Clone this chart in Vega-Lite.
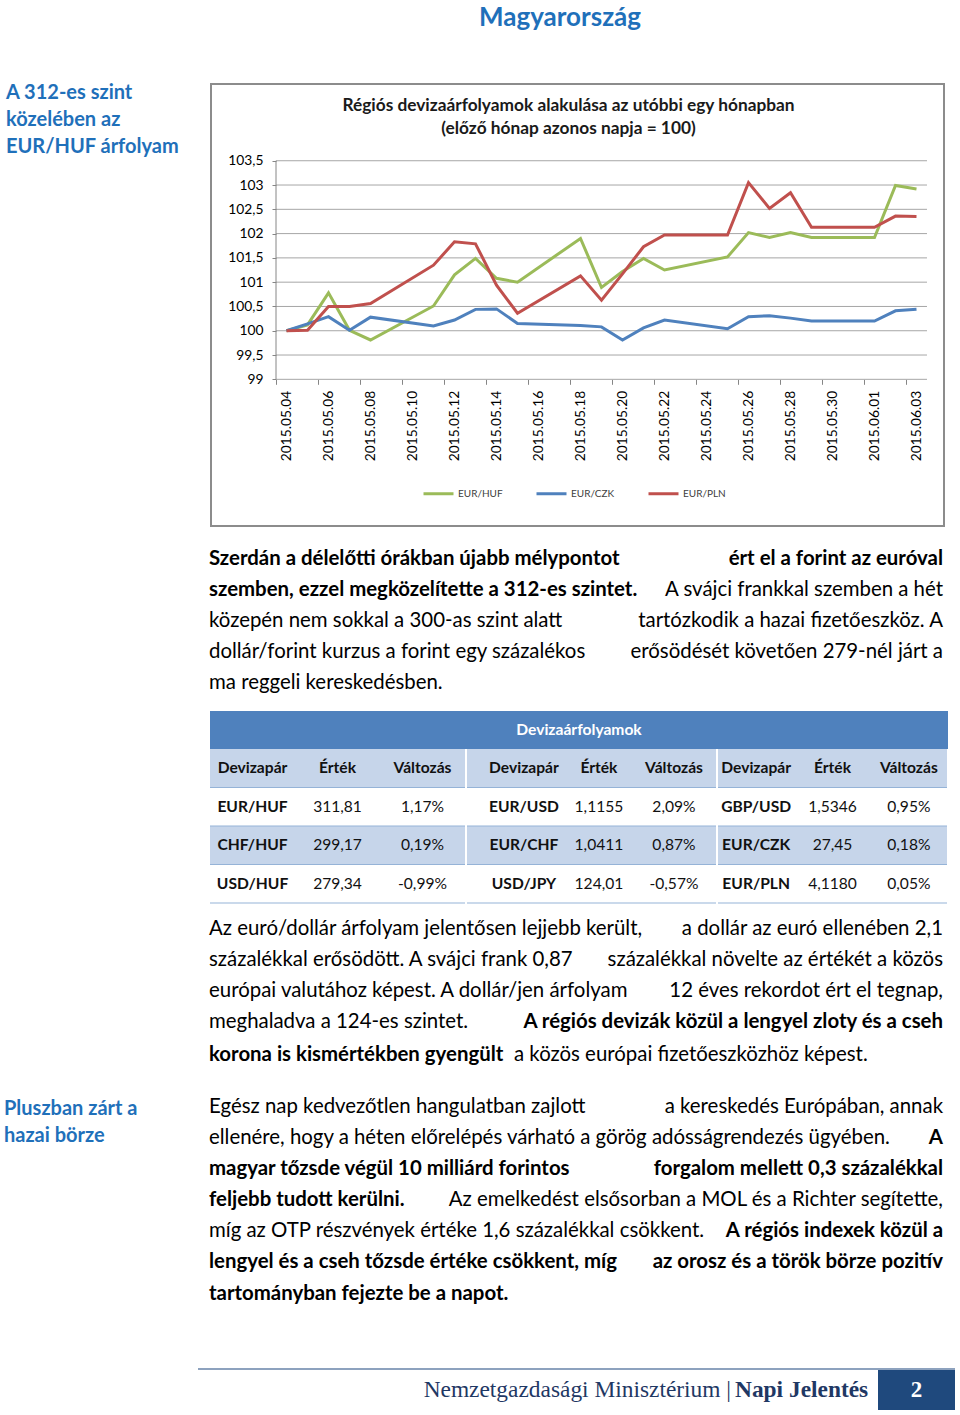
{
  "$schema": "https://vega.github.io/schema/vega-lite/v6.json",
  "background": "white",
  "padding": 0,
  "spacing": 0,
  "resolve": {"scale": {"x": "independent", "y": "independent", "color": "independent"}, "legend": {"color": "independent"}},
  "datasets": {
    "fx": [
      {"date":"2015-05-04","pair":"EUR/HUF","value":100.00},{"date":"2015-05-05","pair":"EUR/HUF","value":100.12},{"date":"2015-05-06","pair":"EUR/HUF","value":100.78},{"date":"2015-05-07","pair":"EUR/HUF","value":100.01},{"date":"2015-05-08","pair":"EUR/HUF","value":99.81},{"date":"2015-05-11","pair":"EUR/HUF","value":100.51},{"date":"2015-05-12","pair":"EUR/HUF","value":101.15},{"date":"2015-05-13","pair":"EUR/HUF","value":101.49},{"date":"2015-05-14","pair":"EUR/HUF","value":101.08},{"date":"2015-05-15","pair":"EUR/HUF","value":101.00},{"date":"2015-05-18","pair":"EUR/HUF","value":101.90},{"date":"2015-05-19","pair":"EUR/HUF","value":100.89},{"date":"2015-05-20","pair":"EUR/HUF","value":101.22},{"date":"2015-05-21","pair":"EUR/HUF","value":101.49},{"date":"2015-05-22","pair":"EUR/HUF","value":101.25},{"date":"2015-05-25","pair":"EUR/HUF","value":101.52},{"date":"2015-05-26","pair":"EUR/HUF","value":102.02},{"date":"2015-05-27","pair":"EUR/HUF","value":101.92},{"date":"2015-05-28","pair":"EUR/HUF","value":102.02},{"date":"2015-05-29","pair":"EUR/HUF","value":101.92},{"date":"2015-06-01","pair":"EUR/HUF","value":101.92},{"date":"2015-06-02","pair":"EUR/HUF","value":102.99},{"date":"2015-06-03","pair":"EUR/HUF","value":102.92},
      {"date":"2015-05-04","pair":"EUR/CZK","value":100.00},{"date":"2015-05-05","pair":"EUR/CZK","value":100.14},{"date":"2015-05-06","pair":"EUR/CZK","value":100.29},{"date":"2015-05-07","pair":"EUR/CZK","value":100.01},{"date":"2015-05-08","pair":"EUR/CZK","value":100.28},{"date":"2015-05-11","pair":"EUR/CZK","value":100.10},{"date":"2015-05-12","pair":"EUR/CZK","value":100.22},{"date":"2015-05-13","pair":"EUR/CZK","value":100.44},{"date":"2015-05-14","pair":"EUR/CZK","value":100.45},{"date":"2015-05-15","pair":"EUR/CZK","value":100.15},{"date":"2015-05-18","pair":"EUR/CZK","value":100.11},{"date":"2015-05-19","pair":"EUR/CZK","value":100.08},{"date":"2015-05-20","pair":"EUR/CZK","value":99.81},{"date":"2015-05-21","pair":"EUR/CZK","value":100.06},{"date":"2015-05-22","pair":"EUR/CZK","value":100.22},{"date":"2015-05-25","pair":"EUR/CZK","value":100.04},{"date":"2015-05-26","pair":"EUR/CZK","value":100.29},{"date":"2015-05-27","pair":"EUR/CZK","value":100.31},{"date":"2015-05-28","pair":"EUR/CZK","value":100.26},{"date":"2015-05-29","pair":"EUR/CZK","value":100.20},{"date":"2015-06-01","pair":"EUR/CZK","value":100.20},{"date":"2015-06-02","pair":"EUR/CZK","value":100.41},{"date":"2015-06-03","pair":"EUR/CZK","value":100.44},
      {"date":"2015-05-04","pair":"EUR/PLN","value":100.00},{"date":"2015-05-05","pair":"EUR/PLN","value":100.01},{"date":"2015-05-06","pair":"EUR/PLN","value":100.50},{"date":"2015-05-07","pair":"EUR/PLN","value":100.50},{"date":"2015-05-08","pair":"EUR/PLN","value":100.56},{"date":"2015-05-11","pair":"EUR/PLN","value":101.35},{"date":"2015-05-12","pair":"EUR/PLN","value":101.83},{"date":"2015-05-13","pair":"EUR/PLN","value":101.79},{"date":"2015-05-14","pair":"EUR/PLN","value":100.94},{"date":"2015-05-15","pair":"EUR/PLN","value":100.36},{"date":"2015-05-18","pair":"EUR/PLN","value":101.13},{"date":"2015-05-19","pair":"EUR/PLN","value":100.63},{"date":"2015-05-20","pair":"EUR/PLN","value":101.17},{"date":"2015-05-21","pair":"EUR/PLN","value":101.73},{"date":"2015-05-22","pair":"EUR/PLN","value":101.97},{"date":"2015-05-25","pair":"EUR/PLN","value":101.97},{"date":"2015-05-26","pair":"EUR/PLN","value":103.05},{"date":"2015-05-27","pair":"EUR/PLN","value":102.52},{"date":"2015-05-28","pair":"EUR/PLN","value":102.84},{"date":"2015-05-29","pair":"EUR/PLN","value":102.13},{"date":"2015-06-01","pair":"EUR/PLN","value":102.13},{"date":"2015-06-02","pair":"EUR/PLN","value":102.36},{"date":"2015-06-03","pair":"EUR/PLN","value":102.35}
    ],
    "grid": [{"v":99},{"v":99.5},{"v":100},{"v":100.5},{"v":101},{"v":101.5},{"v":102},{"v":102.5},{"v":103},{"v":103.5}],
    "p1": [
      {"line":1,"boldLeft":"Szerdán a délelőtti órákban újabb mélypontot","boldRight":"ért el a forint az euróval"},
      {"line":2,"boldLeft":"szemben, ezzel megközelítette a 312-es szintet.","plainRight":"A svájci frankkal szemben a hét"},
      {"line":3,"plainLeft":"közepén nem sokkal a 300-as szint alatt","plainRight":"tartózkodik a hazai fizetőeszköz. A"},
      {"line":4,"plainLeft":"dollár/forint kurzus a forint egy százalékos","plainRight":"erősödését követően 279-nél járt a"},
      {"line":5,"plainLeft":"ma reggeli kereskedésben."}
    ],
    "p2": [
      {"line":1,"plainLeft":"Az euró/dollár árfolyam jelentősen lejjebb került,","plainRight":"a dollár az euró ellenében 2,1"},
      {"line":2,"plainLeft":"százalékkal erősödött. A svájci frank 0,87","plainRight":"százalékkal növelte az értékét a közös"},
      {"line":3,"plainLeft":"európai valutához képest. A dollár/jen árfolyam","plainRight":"12 éves rekordot ért el tegnap,"},
      {"line":4,"plainLeft":"meghaladva a 124-es szintet.","boldRight":"A régiós devizák közül a lengyel zloty és a cseh"}
    ],
    "p3": [
      {"line":1,"plainLeft":"Egész nap kedvezőtlen hangulatban zajlott","plainRight":"a kereskedés Európában, annak"},
      {"line":2,"plainLeft":"ellenére, hogy a héten előrelépés várható a görög adósságrendezés ügyében.","boldRight":"A"},
      {"line":3,"boldLeft":"magyar tőzsde végül 10 milliárd forintos","boldRight":"forgalom mellett 0,3 százalékkal"},
      {"line":4,"boldLeft":"feljebb tudott kerülni.","plainRight":"Az emelkedést elsősorban a MOL és a Richter segítette,"},
      {"line":5,"plainLeft":"míg az OTP részvények értéke 1,6 százalékkal csökkent.","boldRight":"A régiós indexek közül a"},
      {"line":6,"boldLeft":"lengyel és a cseh tőzsde értéke csökkent, míg","boldRight":"az orosz és  a török börze pozitív"},
      {"line":7,"boldLeft":"tartományban fejezte be a napot."}
    ],
    "table": [
      {"g":1,"r":0,"c":0,"t":"Devizapár"},{"g":1,"r":0,"c":1,"t":"Érték"},{"g":1,"r":0,"c":2,"t":"Változás"},
      {"g":1,"r":1,"c":0,"t":"EUR/HUF"},{"g":1,"r":1,"c":1,"t":"311,81"},{"g":1,"r":1,"c":2,"t":"1,17%"},
      {"g":1,"r":2,"c":0,"t":"CHF/HUF"},{"g":1,"r":2,"c":1,"t":"299,17"},{"g":1,"r":2,"c":2,"t":"0,19%"},
      {"g":1,"r":3,"c":0,"t":"USD/HUF"},{"g":1,"r":3,"c":1,"t":"279,34"},{"g":1,"r":3,"c":2,"t":"-0,99%"},
      {"g":2,"r":0,"c":0,"t":"Devizapár"},{"g":2,"r":0,"c":1,"t":"Érték"},{"g":2,"r":0,"c":2,"t":"Változás"},
      {"g":2,"r":1,"c":0,"t":"EUR/USD"},{"g":2,"r":1,"c":1,"t":"1,1155"},{"g":2,"r":1,"c":2,"t":"2,09%"},
      {"g":2,"r":2,"c":0,"t":"EUR/CHF"},{"g":2,"r":2,"c":1,"t":"1,0411"},{"g":2,"r":2,"c":2,"t":"0,87%"},
      {"g":2,"r":3,"c":0,"t":"USD/JPY"},{"g":2,"r":3,"c":1,"t":"124,01"},{"g":2,"r":3,"c":2,"t":"-0,57%"},
      {"g":3,"r":0,"c":0,"t":"Devizapár"},{"g":3,"r":0,"c":1,"t":"Érték"},{"g":3,"r":0,"c":2,"t":"Változás"},
      {"g":3,"r":1,"c":0,"t":"GBP/USD"},{"g":3,"r":1,"c":1,"t":"1,5346"},{"g":3,"r":1,"c":2,"t":"0,95%"},
      {"g":3,"r":2,"c":0,"t":"EUR/CZK"},{"g":3,"r":2,"c":1,"t":"27,45"},{"g":3,"r":2,"c":2,"t":"0,18%"},
      {"g":3,"r":3,"c":0,"t":"EUR/PLN"},{"g":3,"r":3,"c":1,"t":"4,1180"},{"g":3,"r":3,"c":2,"t":"0,05%"}
    ]
  },
  "vconcat": [
    {"hconcat": [
      {"width":160,"height":36,"data":{"values":[]},"mark":"point"},
      {"width":800,"height":36,"data":{"values":[{"t":"Magyarország"}]},"mark":{"type":"text","font":"Lato","fontSize":26,"fontWeight":"bold","color":"#1F70BA","baseline":"middle","align":"center"},"encoding":{"text":{"field":"t"}}}
    ], "spacing":0},
    {"width":960,"height":43.5,"data":{"values":[]},"mark":"point"},
    {"hconcat": [
      {"width":6,"height":10,"data":{"values":[]},"mark":"point"},
      {"width":204,"height":{"step":26.7},"data":{"values":[{"line":1,"t":"A 312-es szint"},{"line":2,"t":"közelében az"},{"line":3,"t":"EUR/HUF árfolyam"}]},
       "mark":{"type":"text","align":"left","baseline":"alphabetic","font":"Lato","fontSize":20,"fontWeight":"bold","color":"#1F70BA"},
       "encoding":{"y":{"field":"line","type":"ordinal","axis":null,"scale":{"type":"point","padding":0.72}},"x":{"value":0},"text":{"field":"t"}}},
      {"vconcat": [
        {"width":733,"height":2.5,"data":{"values":[]},"mark":"point"},
        {"width":733,"height":442,
         "view":{"stroke":"#8C8C8C","strokeWidth":2},
         "title":{"text":["Régiós devizaárfolyamok alakulása az utóbbi egy hónapban","(előző hónap azonos napja = 100)"],"anchor":"middle","frame":"group","offset":-53,"dx":-9,"font":"Lato","fontSize":17.3,"fontWeight":"bold","color":"#1A1A1A","lineHeight":23},
         "layer":[
           {"data":{"name":"grid"},"mark":{"type":"rule","color":"#A6A6A6","strokeWidth":1},
            "encoding":{
              "y":{"field":"v","type":"quantitative","scale":{"domain":[95.98,105.08],"nice":false,"zero":false},
                   "axis":{"orient":"left","offset":-65,"title":null,"domain":false,"grid":false,
                     "values":[99,99.5,100,100.5,101,101.5,102,102.5,103,103.5],
                     "labelExpr":"replace(toString(datum.value), '.', ',')","tickSize":4,"tickColor":"#868686","labelPadding":9,"labelFont":"Lato","labelFontSize":13.8,"labelColor":"#000000","labelOverlap":false,"labelFlush":false}},
              "x":{"datum":{"year":2015,"month":5,"date":3,"hours":12,"utc":true},"type":"temporal","scale":{"type":"utc","nice":false,"domain":[{"year":2015,"month":4,"date":30,"hours":9,"minutes":42,"seconds":51,"utc":true},{"year":2015,"month":6,"date":4,"hours":7,"minutes":25,"seconds":43,"utc":true}]},
                   "axis":{"orient":"bottom","offset":-146.7,"title":null,"domain":false,"grid":false,
                     "values":[{"year":2015,"month":5,"date":4,"utc":true},{"year":2015,"month":5,"date":6,"utc":true},{"year":2015,"month":5,"date":8,"utc":true},{"year":2015,"month":5,"date":10,"utc":true},{"year":2015,"month":5,"date":12,"utc":true},{"year":2015,"month":5,"date":14,"utc":true},{"year":2015,"month":5,"date":16,"utc":true},{"year":2015,"month":5,"date":18,"utc":true},{"year":2015,"month":5,"date":20,"utc":true},{"year":2015,"month":5,"date":22,"utc":true},{"year":2015,"month":5,"date":24,"utc":true},{"year":2015,"month":5,"date":26,"utc":true},{"year":2015,"month":5,"date":28,"utc":true},{"year":2015,"month":5,"date":30,"utc":true},{"year":2015,"month":6,"date":1,"utc":true},{"year":2015,"month":6,"date":3,"utc":true}],
                     "labelExpr":"utcFormat(datum.value, '%Y.%m.%d')","labelAngle":-90,"labelAlign":"right","labelBaseline":"middle","labelPadding":6,
                     "tickOffset":-10.5,"labelOffset":10.5,"tickSize":5,"tickColor":"#868686","labelFont":"Lato","labelFontSize":13.8,"labelColor":"#000000","labelOverlap":false,"labelFlush":false}},
              "x2":{"datum":{"year":2015,"month":6,"date":3,"hours":12,"utc":true}}}},
           {"data":{"values":[{}]},"mark":{"type":"rule","color":"#868686","strokeWidth":1},
            "encoding":{
              "x":{"datum":{"year":2015,"month":5,"date":3,"hours":12,"utc":true},"type":"temporal","scale":{"type":"utc","nice":false,"domain":[{"year":2015,"month":4,"date":30,"hours":9,"minutes":42,"seconds":51,"utc":true},{"year":2015,"month":6,"date":4,"hours":7,"minutes":25,"seconds":43,"utc":true}]}},
              "y":{"datum":99,"type":"quantitative","scale":{"domain":[95.98,105.08],"nice":false,"zero":false}},
              "y2":{"datum":103.5}}},
           {"data":{"name":"fx"},"mark":{"type":"line","strokeWidth":3},
            "encoding":{
              "x":{"field":"date","type":"temporal",
                   "scale":{"type":"utc","nice":false,"domain":[{"year":2015,"month":4,"date":30,"hours":9,"minutes":42,"seconds":51,"utc":true},{"year":2015,"month":6,"date":4,"hours":7,"minutes":25,"seconds":43,"utc":true}]}},
              "y":{"field":"value","type":"quantitative",
                   "scale":{"domain":[95.98,105.08],"nice":false,"zero":false}},
              "color":{"field":"pair","type":"nominal",
                   "scale":{"domain":["EUR/HUF","EUR/CZK","EUR/PLN"],"range":["#9BBB59","#4F81BD","#C0504D"]},
                   "legend":{"title":null,"orient":"none","legendX":422,"legendY":397,"direction":"horizontal","symbolType":"stroke","symbolSize":900,"symbolStrokeWidth":3,"labelFont":"Lato","labelFontSize":10,"labelColor":"#404040","columnPadding":27,"labelOffset":3,"padding":0}}}}
         ]}
      ], "spacing":0}
    ], "spacing":0},
    {"width":960,"height":21,"data":{"values":[]},"mark":"point"},
    {"hconcat": [
      {"width":209,"height":10,"data":{"values":[]},"mark":"point"},
      {"width":734,"height":{"step":31.2},"data":{"name":"p1"},
       "encoding":{"y":{"field":"line","type":"ordinal","axis":null,"scale":{"type":"point","padding":0.5}}},
       "layer":[
         {"transform":[{"filter":"isValid(datum.boldLeft)"}],"mark":{"type":"text","align":"left","baseline":"alphabetic","font":"Lato","fontSize":20.4,"fontWeight":"bold","color":"#000000"},"encoding":{"x":{"value":0},"text":{"field":"boldLeft"}}},
         {"transform":[{"filter":"isValid(datum.plainLeft)"}],"mark":{"type":"text","align":"left","baseline":"alphabetic","font":"Lato","fontSize":20.4,"color":"#000000"},"encoding":{"x":{"value":0},"text":{"field":"plainLeft"}}},
         {"transform":[{"filter":"isValid(datum.boldRight)"}],"mark":{"type":"text","align":"right","baseline":"alphabetic","font":"Lato","fontSize":20.4,"fontWeight":"bold","color":"#000000"},"encoding":{"x":{"value":"width"},"text":{"field":"boldRight"}}},
         {"transform":[{"filter":"isValid(datum.plainRight)"}],"mark":{"type":"text","align":"right","baseline":"alphabetic","font":"Lato","fontSize":20.4,"color":"#000000"},"encoding":{"x":{"value":"width"},"text":{"field":"plainRight"}}}
       ]}
    ], "spacing":0},
    {"width":960,"height":6,"data":{"values":[]},"mark":"point"},
    {"hconcat": [
      {"width":209,"height":10,"data":{"values":[]},"mark":"point"},
      {"vconcat": [
        {"width":738,"height":38,"view":{"fill":"#4F81BD","stroke":null},"data":{"values":[{"t":"Devizaárfolyamok"}]},"mark":{"type":"text","font":"Lato","fontSize":15.6,"fontWeight":"bold","color":"#FFFFFF","baseline":"middle","align":"center"},"encoding":{"text":{"field":"t"}}},
        {"hconcat": [
          {"width":255,"height":154,"data":{"name":"table"},"transform":[{"filter":"datum.g == 1"}],
           "layer":[
             {"transform":[{"filter":"datum.c == 0 && (datum.r == 0 || datum.r == 2)"}],"mark":{"type":"rect","color":"#C6D5EA"},"encoding":{"y":{"field":"r","type":"ordinal","axis":null,"scale":{"type":"band","domain":[0,1,2,3],"paddingInner":0,"paddingOuter":0}},"x":{"value":0},"x2":{"value":"width"}}},
             {"transform":[{"filter":"datum.c == 0"}],"mark":{"type":"rule","color":"#95B3D7","strokeWidth":1.2},"encoding":{"y":{"field":"r","type":"ordinal","bandPosition":1,"axis":null},"x":{"value":0},"x2":{"value":"width"}}},
             {"transform":[{"filter":"datum.r == 0 || datum.c == 0"}],"mark":{"type":"text","font":"Lato","fontSize":15.6,"fontWeight":"bold","color":"#111111","baseline":"middle","align":"center"},"encoding":{"y":{"field":"r","type":"ordinal","bandPosition":0.5,"axis":null},"x":{"field":"c","type":"ordinal","bandPosition":0.5,"axis":null,"scale":{"type":"band","domain":[0,1,2],"paddingInner":0,"paddingOuter":0}},"text":{"field":"t"}}},
             {"transform":[{"filter":"datum.r > 0 && datum.c > 0"}],"mark":{"type":"text","font":"Lato","fontSize":15.6,"color":"#111111","baseline":"middle","align":"center"},"encoding":{"y":{"field":"r","type":"ordinal","bandPosition":0.5,"axis":null},"x":{"field":"c","type":"ordinal","bandPosition":0.5,"axis":null,"scale":{"type":"band","domain":[0,1,2],"paddingInner":0,"paddingOuter":0}},"text":{"field":"t"}}}
           ]},
          {"width":249,"height":154,"data":{"name":"table"},"transform":[{"filter":"datum.g == 2"}],
           "layer":[
             {"transform":[{"filter":"datum.c == 0 && (datum.r == 0 || datum.r == 2)"}],"mark":{"type":"rect","color":"#C6D5EA"},"encoding":{"y":{"field":"r","type":"ordinal","axis":null,"scale":{"type":"band","domain":[0,1,2,3],"paddingInner":0,"paddingOuter":0}},"x":{"value":0},"x2":{"value":"width"}}},
             {"transform":[{"filter":"datum.c == 0"}],"mark":{"type":"rule","color":"#95B3D7","strokeWidth":1.2},"encoding":{"y":{"field":"r","type":"ordinal","bandPosition":1,"axis":null},"x":{"value":0},"x2":{"value":"width"}}},
             {"transform":[{"filter":"datum.r == 0 || datum.c == 0"}],"mark":{"type":"text","font":"Lato","fontSize":15.6,"fontWeight":"bold","color":"#111111","baseline":"middle","align":"center"},"encoding":{"y":{"field":"r","type":"ordinal","bandPosition":0.5,"axis":null},"x":{"field":"c","type":"ordinal","bandPosition":0.5,"axis":null,"scale":{"type":"band","domain":[0,1,2],"paddingInner":0,"paddingOuter":0.16,"align":0.81}},"text":{"field":"t"}}},
             {"transform":[{"filter":"datum.r > 0 && datum.c > 0"}],"mark":{"type":"text","font":"Lato","fontSize":15.6,"color":"#111111","baseline":"middle","align":"center"},"encoding":{"y":{"field":"r","type":"ordinal","bandPosition":0.5,"axis":null},"x":{"field":"c","type":"ordinal","bandPosition":0.5,"axis":null,"scale":{"type":"band","domain":[0,1,2],"paddingInner":0,"paddingOuter":0.16,"align":0.81}},"text":{"field":"t"}}}
           ]},
          {"width":229,"height":154,"data":{"name":"table"},"transform":[{"filter":"datum.g == 3"}],
           "layer":[
             {"transform":[{"filter":"datum.c == 0 && (datum.r == 0 || datum.r == 2)"}],"mark":{"type":"rect","color":"#C6D5EA"},"encoding":{"y":{"field":"r","type":"ordinal","axis":null,"scale":{"type":"band","domain":[0,1,2,3],"paddingInner":0,"paddingOuter":0}},"x":{"value":0},"x2":{"value":"width"}}},
             {"transform":[{"filter":"datum.c == 0"}],"mark":{"type":"rule","color":"#95B3D7","strokeWidth":1.2},"encoding":{"y":{"field":"r","type":"ordinal","bandPosition":1,"axis":null},"x":{"value":0},"x2":{"value":"width"}}},
             {"transform":[{"filter":"datum.r == 0 || datum.c == 0"}],"mark":{"type":"text","font":"Lato","fontSize":15.6,"fontWeight":"bold","color":"#111111","baseline":"middle","align":"center"},"encoding":{"y":{"field":"r","type":"ordinal","bandPosition":0.5,"axis":null},"x":{"field":"c","type":"ordinal","bandPosition":0.5,"axis":null,"scale":{"type":"band","domain":[0,1,2],"paddingInner":0,"paddingOuter":0}},"text":{"field":"t"}}},
             {"transform":[{"filter":"datum.r > 0 && datum.c > 0"}],"mark":{"type":"text","font":"Lato","fontSize":15.6,"color":"#111111","baseline":"middle","align":"center"},"encoding":{"y":{"field":"r","type":"ordinal","bandPosition":0.5,"axis":null},"x":{"field":"c","type":"ordinal","bandPosition":0.5,"axis":null,"scale":{"type":"band","domain":[0,1,2],"paddingInner":0,"paddingOuter":0}},"text":{"field":"t"}}}
           ]}
        ], "spacing":0}
      ], "spacing":0}
    ], "spacing":0},
    {"width":960,"height":13.6,"data":{"values":[]},"mark":"point"},
    {"hconcat": [
      {"width":209,"height":10,"data":{"values":[]},"mark":"point"},
      {"vconcat": [
        {"width":734,"height":{"step":31.2},"data":{"name":"p2"},
         "encoding":{"y":{"field":"line","type":"ordinal","axis":null,"scale":{"type":"point","padding":0.5}}},
         "layer":[
           {"transform":[{"filter":"isValid(datum.boldLeft)"}],"mark":{"type":"text","align":"left","baseline":"alphabetic","font":"Lato","fontSize":20.4,"fontWeight":"bold","color":"#000000"},"encoding":{"x":{"value":0},"text":{"field":"boldLeft"}}},
           {"transform":[{"filter":"isValid(datum.plainLeft)"}],"mark":{"type":"text","align":"left","baseline":"alphabetic","font":"Lato","fontSize":20.4,"color":"#000000"},"encoding":{"x":{"value":0},"text":{"field":"plainLeft"}}},
           {"transform":[{"filter":"isValid(datum.boldRight)"}],"mark":{"type":"text","align":"right","baseline":"alphabetic","font":"Lato","fontSize":20.4,"fontWeight":"bold","color":"#000000"},"encoding":{"x":{"value":"width"},"text":{"field":"boldRight"}}},
           {"transform":[{"filter":"isValid(datum.plainRight)"}],"mark":{"type":"text","align":"right","baseline":"alphabetic","font":"Lato","fontSize":20.4,"color":"#000000"},"encoding":{"x":{"value":"width"},"text":{"field":"plainRight"}}}
         ]},
        {"hconcat": [
          {"width":305,"height":{"step":31.2},"data":{"values":[{"line":1,"t":"korona is kismértékben gyengült"}]},
           "mark":{"type":"text","align":"left","baseline":"alphabetic","font":"Lato","fontSize":20.4,"fontWeight":"bold","color":"#000000"},
           "encoding":{"y":{"field":"line","type":"ordinal","axis":null,"scale":{"type":"point","padding":0.5}},"x":{"value":0},"text":{"field":"t"}}},
          {"width":429,"height":{"step":31.2},"data":{"values":[{"line":1,"t":"a közös európai fizetőeszközhöz képest."}]},
           "mark":{"type":"text","align":"left","baseline":"alphabetic","font":"Lato","fontSize":20.4,"color":"#000000"},
           "encoding":{"y":{"field":"line","type":"ordinal","axis":null,"scale":{"type":"point","padding":0.5}},"x":{"value":0},"text":{"field":"t"}}}
        ], "spacing":0}
      ], "spacing":0}
    ], "spacing":0},
    {"width":960,"height":18.8,"data":{"values":[]},"mark":"point"},
    {"hconcat": [
      {"width":4,"height":10,"data":{"values":[]},"mark":"point"},
      {"width":205,"height":{"step":26.7},"data":{"values":[{"line":1,"t":"Pluszban zárt a"},{"line":2,"t":"hazai börze"}]},
       "mark":{"type":"text","align":"left","baseline":"alphabetic","font":"Lato","fontSize":20,"fontWeight":"bold","color":"#1F70BA"},
       "encoding":{"y":{"field":"line","type":"ordinal","axis":null,"scale":{"type":"point","padding":0.67}},"x":{"value":0},"text":{"field":"t"}}},
      {"width":734,"height":{"step":31.17},"data":{"name":"p3"},
       "encoding":{"y":{"field":"line","type":"ordinal","axis":null,"scale":{"type":"point","padding":0.5}}},
       "layer":[
         {"transform":[{"filter":"isValid(datum.boldLeft)"}],"mark":{"type":"text","align":"left","baseline":"alphabetic","font":"Lato","fontSize":20.4,"fontWeight":"bold","color":"#000000"},"encoding":{"x":{"value":0},"text":{"field":"boldLeft"}}},
         {"transform":[{"filter":"isValid(datum.plainLeft)"}],"mark":{"type":"text","align":"left","baseline":"alphabetic","font":"Lato","fontSize":20.4,"color":"#000000"},"encoding":{"x":{"value":0},"text":{"field":"plainLeft"}}},
         {"transform":[{"filter":"isValid(datum.boldRight)"}],"mark":{"type":"text","align":"right","baseline":"alphabetic","font":"Lato","fontSize":20.4,"fontWeight":"bold","color":"#000000"},"encoding":{"x":{"value":"width"},"text":{"field":"boldRight"}}},
         {"transform":[{"filter":"isValid(datum.plainRight)"}],"mark":{"type":"text","align":"right","baseline":"alphabetic","font":"Lato","fontSize":20.4,"color":"#000000"},"encoding":{"x":{"value":"width"},"text":{"field":"plainRight"}}}
       ]}
    ], "spacing":0},
    {"width":960,"height":51.5,"data":{"values":[]},"mark":"point"},
    {"hconcat": [
      {"width":198,"height":2,"data":{"values":[]},"mark":"point"},
      {"width":757,"height":2,"view":{"fill":"#8DA2BE","stroke":null},"data":{"values":[]},"mark":"point"}
    ], "spacing":0},
    {"hconcat": [
      {"width":398,"height":40,"data":{"values":[]},"mark":"point"},
      {"width":333,"height":40,"data":{"values":[{"t":"Nemzetgazdasági Minisztérium |"}]},"mark":{"type":"text","align":"right","baseline":"middle","font":"Liberation Serif","fontSize":23.4,"color":"#1F3864"},"encoding":{"x":{"value":"width"},"text":{"field":"t"}}},
      {"width":4,"height":40,"data":{"values":[]},"mark":"point"},
      {"width":143,"height":40,"data":{"values":[{"t":"Napi Jelentés"}]},"mark":{"type":"text","align":"left","baseline":"middle","font":"Liberation Serif","fontSize":23.4,"fontWeight":"bold","color":"#1F3864"},"encoding":{"x":{"value":0},"text":{"field":"t"}}},
      {"width":77,"height":40,"view":{"fill":"#1F497D","stroke":null},"data":{"values":[{"t":"2"}]},"mark":{"type":"text","align":"center","baseline":"middle","font":"Liberation Serif","fontSize":23,"fontWeight":"bold","color":"#FFFFFF"},"encoding":{"text":{"field":"t"}}}
    ], "spacing":0}
  ],
  "config": {
    "view": {"stroke": null},
    "concat": {"spacing": 0},
    "font": "Lato"
  }
}
